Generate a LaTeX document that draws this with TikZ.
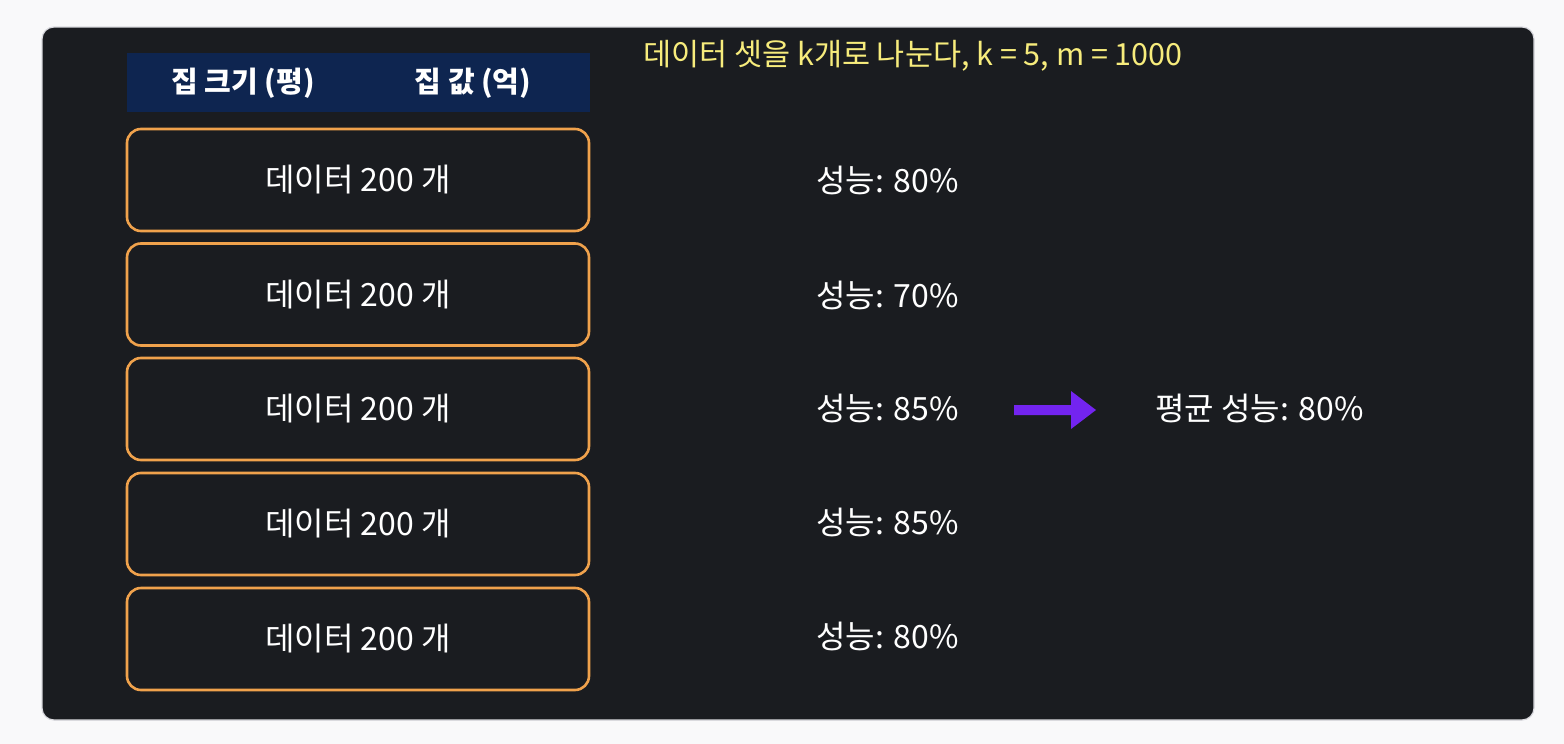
\documentclass[tikz,border=0pt]{standalone}
\usepackage{fontspec}
\setmainfont{Noto Sans CJK KR}
\definecolor{pagebg}{HTML}{F9F9FA}
\definecolor{panelbg}{HTML}{1A1C20}
\definecolor{panelborder}{HTML}{D9D9DE}
\definecolor{headbg}{HTML}{0E2550}
\definecolor{boxorange}{HTML}{F0A24C}
\definecolor{noteyellow}{HTML}{F7EC7C}
\definecolor{arrowpurple}{HTML}{7324F0}
\tikzset{
  databox/.style={draw=boxorange, line width=2.6pt, rounded corners=14pt, minimum width=462pt, minimum height=102pt, inner sep=0pt, text=white, font=\fontsize{32}{38}\selectfont},
  perf/.style={anchor=west, text=white, inner sep=0pt, font=\fontsize{32}{38}\selectfont},
  headtext/.style={text=white, inner sep=0pt, font=\bfseries\fontsize{29}{34}\selectfont},
}
\begin{document}
\begin{tikzpicture}[x=1pt,y=-1pt]
\useasboundingbox (0,0) rectangle (1564,744);
\fill[pagebg] (0,0) rectangle (1564,744);
\draw[panelborder, line width=1.2pt, fill=panelbg, rounded corners=12pt] (42,27) rectangle (1534,720);
\fill[headbg] (127,53) rectangle (590,112);
\node[headtext] (h1) at (243,83) {집 크기 (평)};
\node[headtext] (h2) at (473,83) {집 값 (억)};
\node[anchor=west, text=noteyellow, inner sep=0pt, font=\fontsize{30.5}{36}\selectfont] (note) at (643,56) {데이터 셋을 k개로 나눈다, k = 5, m = 1000};
\node[databox] (d1) at (358,180) {데이터 200 개};
\node[databox] (d2) at (358,294.5) {데이터 200 개};
\node[databox] (d3) at (358,409) {데이터 200 개};
\node[databox] (d4) at (358,524) {데이터 200 개};
\node[databox] (d5) at (358,639) {데이터 200 개};
\node[perf] (p1) at (816,180) {성능: 80\%};
\node[perf] (p2) at (816,295) {성능: 70\%};
\node[perf] (p3) at (816,408) {성능: 85\%};
\node[perf] (p4) at (816,522) {성능: 85\%};
\node[perf] (p5) at (816,636) {성능: 80\%};
\node[perf] (avg) at (1155,408) {평균 성능: 80\%};
\fill[arrowpurple] (1014,405) -- (1071,405) -- (1071,391) -- (1096,410) -- (1071,429) -- (1071,415) -- (1014,415) -- cycle;
\end{tikzpicture}
\end{document}
